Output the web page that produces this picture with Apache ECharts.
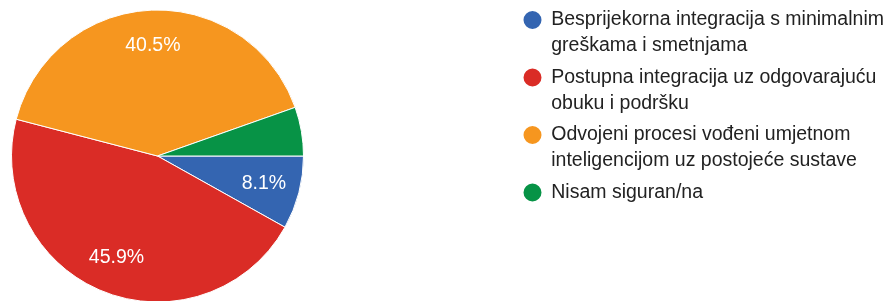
<!DOCTYPE html>
<html>
<head>
<meta charset="utf-8">
<script src="https://cdn.jsdelivr.net/npm/echarts@6/dist/echarts.min.js"></script>
<style>
html,body{margin:0;padding:0;background:#fff;}
#chart{width:887px;height:301px;}
</style>
</head>
<body>
<div id="chart"></div>
<script>
// Categories (with the line breaks used in the legend)
var categories = [
  'Besprijekorna integracija s minimalnim\ngreškama i smetnjama',
  'Postupna integracija uz odgovarajuću\nobuku i podršku',
  'Odvojeni procesi vođeni umjetnom\ninteligencijom uz postojeće sustave',
  'Nisam siguran/na'
];
// Number of responses (37 total): 8.1%, 45.9%, 40.5%, 5.4%
var values = [3, 17, 15, 2];
var colors = ['#3465b1', '#da2c26', '#f6961f', '#079346'];
var showLabel = [true, true, true, false];

var total = values.reduce(function (a, b) { return a + b; }, 0);
var FONT = '"Liberation Sans", Arial, sans-serif';

var sectorData = categories.map(function (c, i) {
  return { name: c, value: values[i], itemStyle: { color: colors[i] } };
});
var labelData = categories.map(function (c, i) {
  return { name: c, value: values[i], label: { show: showLabel[i] } };
});

var chart = echarts.init(document.getElementById('chart'), null, { renderer: 'canvas' });
chart.setOption({
  animation: false,
  backgroundColor: '#ffffff',
  legend: {
    orient: 'vertical',
    left: 521.5,
    top: -19,
    padding: 0,
    itemGap: -20.5,
    icon: 'circle',
    itemWidth: 27.5,
    itemHeight: 20,
    data: categories,
    selectedMode: false,
    formatter: function (name) {
      return '\n' + name + (name.indexOf('\n') < 0 ? '\n' : '');
    },
    textStyle: {
      fontFamily: FONT,
      fontSize: 19.5,
      lineHeight: 26,
      color: '#222222'
    }
  },
  series: [
    {
      type: 'pie',
      center: [157.5, 156],
      radius: [0, 146],
      startAngle: 0,
      clockwise: true,
      silent: true,
      label: { show: false },
      labelLine: { show: false },
      itemStyle: { borderColor: '#ffffff', borderWidth: 1 },
      data: sectorData
    },
    {
      type: 'pie',
      center: [157.5, 156],
      radius: [68, 146],
      startAngle: 0,
      clockwise: true,
      silent: true,
      legendHoverLink: false,
      itemStyle: { color: 'rgba(0,0,0,0)', borderWidth: 0 },
      labelLine: { show: false },
      label: {
        position: 'inside',
        color: '#ffffff',
        fontFamily: FONT,
        fontSize: 19.5,
        formatter: function (p) {
          return (p.value / total * 100).toFixed(1) + '%';
        }
      },
      data: labelData
    }
  ]
});
</script>
</body>
</html>
